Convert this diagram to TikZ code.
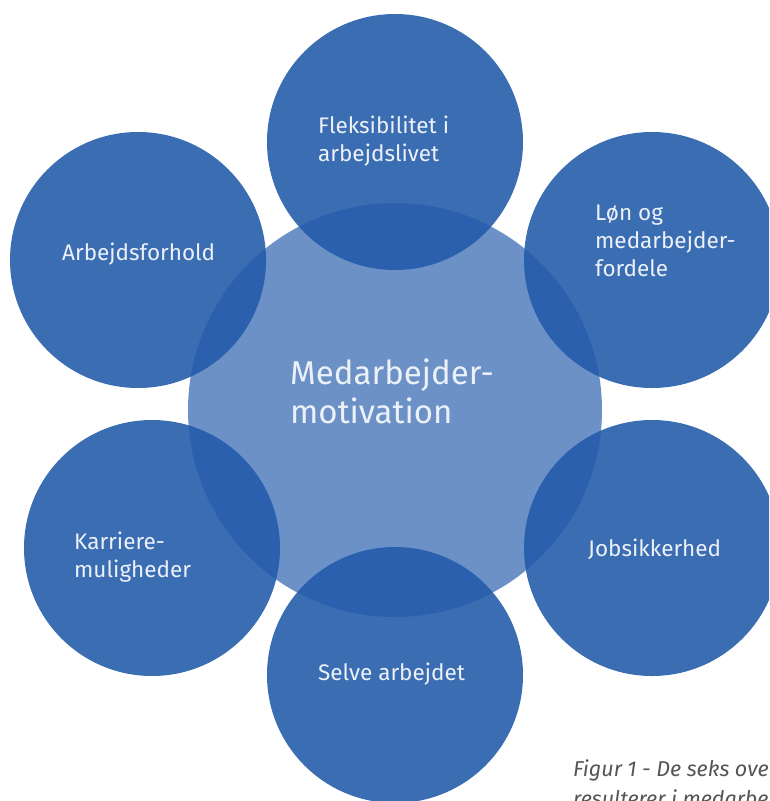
\documentclass[tikz,border=0pt]{standalone}
\usepackage{fontspec}
\setmainfont{Fira Sans}
\definecolor{outerblue}{RGB}{35,91,170}
\definecolor{centerblue}{RGB}{107,145,198}
\definecolor{capgray}{RGB}{85,85,85}
\definecolor{lbltext}{RGB}{236,241,248}
\tikzset{
  outer/.style={circle, fill=outerblue, fill opacity=0.89, minimum size=256pt, inner sep=0pt},
  lbl/.style={text=lbltext, font=\fontsize{22.5}{28}\selectfont, align=left, anchor=west, inner sep=0pt},
  biglbl/.style={text=lbltext, font=\fontsize{33}{39}\selectfont, align=left, anchor=west, inner sep=0pt},
  captext/.style={text=capgray, font=\fontsize{21.5}{30}\selectfont\itshape, align=left, anchor=base west, inner sep=0pt}
}
\begin{document}
\begin{tikzpicture}[x=1pt,y=-1pt]
\useasboundingbox (0,0) rectangle (769,801);
\clip (0,0) rectangle (769,801);
\node[circle, fill=centerblue, minimum size=414pt, inner sep=0pt] (c) at (395,410) {};
\node[outer] (t) at (395,142) {};
\node[outer] (ur) at (652,260) {};
\node[outer] (ul) at (138,260) {};
\node[outer] (ll) at (152,548) {};
\node[outer] (lr) at (652,548) {};
\node[outer] (b) at (395,675) {};
\node[biglbl] (ct) at (290,391) {Medarbejder-\\motivation};
\node[lbl] (tt) at (318,141) {Fleksibilitet i\\arbejdslivet};
\node[lbl] (urt) at (595,241) {Løn og\\medarbejder-\\fordele};
\node[lbl] (ult) at (62,254) {Arbejdsforhold};
\node[lbl] (llt) at (74,557) {Karriere-\\muligheder};
\node[lbl] (lrt) at (588,549) {Jobsikkerhed};
\node[lbl] (bt) at (318,674) {Selve arbejdet};
\node[captext] (capt) at (573,806) {Figur 1 - De seks overordnede faktorer, der\\resulterer i medarbejdermotivation};
\end{tikzpicture}
\end{document}
